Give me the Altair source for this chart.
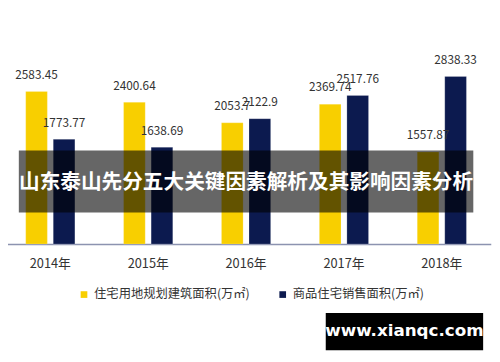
import altair as alt
import pandas as pd

years = ["2014年", "2015年", "2016年", "2017年", "2018年"]
series = ["住宅用地规划建筑面积(万㎡)", "商品住宅销售面积(万㎡)"]
planned = [2583.45, 2400.64, 2053.7, 2369.74, 1557.87]
sold = [1773.77, 1638.69, 2122.9, 2517.76, 2838.33]
labels_planned = ["2583.45", "2400.64", "2053.7", "2369.74", "1557.87"]
labels_sold = ["1773.77", "1638.69", "2122.9", "2517.76", "2838.33"]
colors = ["#F8CF00", "#0C1A4F"]
banner_title = "山东泰山先分五大关键因素解析及其影响因素分析"
watermark = "www.xianqc.com"

rows = []
for i, y in enumerate(years):
    rows.append({"year": y, "series": series[0], "value": planned[i], "label": labels_planned[i]})
    rows.append({"year": y, "series": series[1], "value": sold[i], "label": labels_sold[i]})
df = pd.DataFrame(rows)

FONT = "Noto Sans CJK SC"

x = alt.X("year:N", sort=years, title=None,
          scale=alt.Scale(range=[-6.75, 490.75], paddingInner=0.4975, paddingOuter=0.24875),
          axis=alt.Axis(labelAngle=0, ticks=False, labelPadding=14, labelFontSize=13,
                        labelColor="#333333", labelFont=FONT, domainColor="#8C93B0",
                        domainWidth=1.5, grid=False))
xoff = alt.XOffset("series:N", sort=series,
                   scale=alt.Scale(paddingInner=0.2143, paddingOuter=0))
y = alt.Y("value:Q", scale=alt.Scale(domain=[0, 3950]), axis=None)

bars = alt.Chart(df).mark_bar(stroke="#FFFFFF", strokeOpacity=0.4, strokeWidth=0.5).encode(
    x=x, xOffset=xoff, y=y,
    color=alt.Color("series:N", sort=series,
                    scale=alt.Scale(domain=series, range=colors),
                    legend=alt.Legend(title=None, orient="none", legendX=71, legendY=282,
                                      padding=0, direction="horizontal", symbolType="square",
                                      symbolSize=46, symbolStrokeWidth=0, labelOffset=4,
                                      labelFontSize=12.5, labelColor="#333333", labelFont=FONT,
                                      columnPadding=27, labelLimit=300)),
)

text = alt.Chart(df).mark_text(dy=-10, fontSize=12, color="#333333", font=FONT,
                               baseline="bottom").encode(
    x=x, xOffset=xoff, y=y, text="label:N")

banner_df = pd.DataFrame({"t": [banner_title]})
banner = alt.Chart(banner_df).mark_rect(color="#000000", opacity=0.6).encode(
    x=alt.value(11), x2=alt.value(473), y=alt.value(142), y2=alt.value(205))
banner_text = alt.Chart(banner_df).mark_text(
    color="#FFFFFF", fontSize=21, fontWeight="bold", font=FONT, align="center",
    baseline="middle").encode(x=alt.value(242), y=alt.value(175), text="t:N")

wm_df = pd.DataFrame({"t": [watermark]})
wm_rect = alt.Chart(wm_df).mark_rect(color="#000000").encode(
    x=alt.value(323), x2=alt.value(483), y=alt.value(307), y2=alt.value(345))
wm_text = alt.Chart(wm_df).mark_text(
    color="#FFFFFF", fontSize=17, fontWeight="bold", font="DejaVu Sans", align="center",
    baseline="middle").encode(x=alt.value(403), y=alt.value(326), text="t:N")

chart = alt.layer(bars, text, banner, banner_text, wm_rect, wm_text).properties(
    width=492, height=237,
    autosize=alt.AutoSizeParams(type="none"),
    padding={"left": 0, "top": 0, "right": 0, "bottom": 117},
).configure_view(stroke=None)

chart.save("out.html", embed_options={"renderer": "svg", "actions": False})
